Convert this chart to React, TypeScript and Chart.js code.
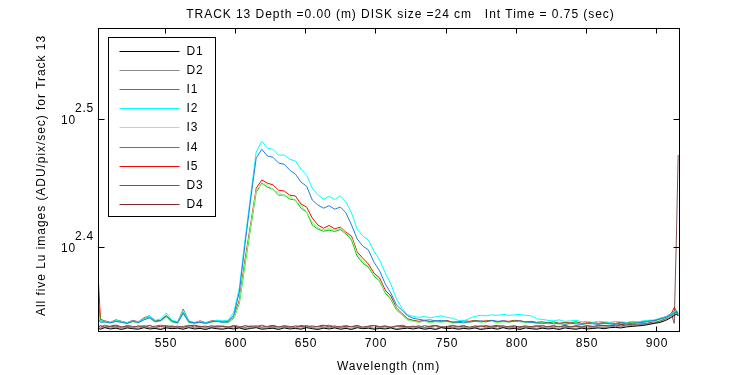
import React, { useEffect, useRef } from 'react';
import { Chart, registerables } from 'chart.js';

Chart.register(...registerables);

// ---------- DATA ----------
const titleText = 'TRACK 13 Depth =0.00 (m) DISK size =24 cm   Int Time = 0.75 (sec)';
const xAxisTitle = 'Wavelength (nm)';
const yAxisTitle = 'All five Lu images (ADU/pix/sec) for Track 13';

const xTickValues = [550, 600, 650, 700, 750, 800, 850, 900];
const yTickExponents = [2.4, 2.5];
const xRange = [502.25, 916.4];
const yRange = [215.6, 373.2];

const wavelengths = [
  502.5, 504, 507, 511, 515, 519, 523, 527, 531, 535, 539, 543, 547, 551, 555, 559, 563, 567, 571, 575, 579, 583, 587, 591, 595,
  599, 603, 607, 611, 615, 619, 623, 627, 631, 635, 639, 643, 647, 651, 655, 659, 663, 667, 671, 675, 679, 683, 687, 691, 695, 699, 703, 707, 711, 715, 719, 723,
  727, 731, 735, 739, 743, 747, 751, 755, 759, 763, 767, 771, 775, 779, 783, 787, 791, 795, 799, 803, 807, 811, 815, 819, 823, 827, 831, 835, 839, 843,
  847, 851, 855, 859, 863, 867, 871, 875, 879, 883, 887, 891, 895, 899, 903, 907, 911, 913, 914.5, 915.8,
];

const seriesD1 = [
  216.6, 216.3, 216.9, 216.4, 216.7, 216.2, 216.8, 216.5, 216.3, 216.9, 216.4, 216.6, 216.2, 216.8, 216.5, 216.7, 216.3, 216.9, 216.4, 216.6, 216.2, 216.8, 216.5, 216.3, 216.7,
  216.4, 216.8, 216.2, 216.6, 216.9, 216.3, 216.5, 216.7, 216.2, 216.8, 216.4, 216.6, 216.3, 216.9, 216.5, 216.2, 216.7, 216.4, 216.8, 216.3, 216.6, 216.2, 216.9, 216.5, 216.7, 216.3, 216.6, 216.4, 216.8, 216.2, 216.5, 216.7,
  216.4, 216.8, 216.3, 216.6, 216.2, 216.9, 216.5, 216.7, 216.3, 216.6, 216.4, 216.8, 216.2, 216.5, 216.7, 216.3, 216.9, 216.4, 216.6, 216.2, 216.8, 216.5, 216.3, 216.7, 216.4,
  216.6, 216.2, 216.8, 216.5, 216.3, 216.7, 216.4, 216.6, 216.8, 216.5, 216.9, 217.0, 216.8, 217.2, 217.4, 217.6, 217.8, 218.2, 218.6, 219.0, 219.8, 221.0, 221.8, 222.2, 221.8,
];

const seriesD2 = [
  217.0, 216.7, 217.3, 216.8, 217.1, 216.6, 217.2, 216.9, 216.7, 217.3, 216.8, 217.0, 216.6, 217.2, 216.9, 217.1, 216.7, 217.3, 216.8, 217.0, 216.6, 217.2, 216.9, 216.7, 217.1,
  216.8, 217.2, 216.6, 217.0, 217.3, 216.7, 216.9, 217.1, 216.6, 217.2, 216.8, 217.0, 216.7, 217.3, 216.9, 216.6, 217.1, 216.8, 217.2, 216.7, 217.0, 216.6, 217.3, 216.9, 217.1, 216.7, 217.0, 216.8, 217.2, 216.6, 216.9, 217.1,
  216.8, 217.2, 216.7, 217.0, 216.6, 217.3, 216.9, 217.1, 216.7, 217.0, 216.8, 217.2, 216.6, 216.9, 217.1, 216.7, 217.3, 216.8, 217.0, 216.6, 217.2, 216.9, 216.7, 217.1, 216.8,
  217.0, 216.6, 217.2, 216.9, 216.7, 217.1, 216.8, 217.0, 217.2, 216.9, 217.3, 217.4, 217.2, 217.6, 217.8, 218.0, 218.2, 218.6, 219.0, 219.4, 220.2, 221.4, 222.2, 222.6, 222.0,
];

const seriesI1 = [
  220.2, 219.0, 219.2, 218.8, 219.4, 219.0, 218.6, 219.4, 218.9, 220.0, 220.8, 219.2, 219.8, 221.8, 219.4, 218.8, 222.6, 219.2, 218.8, 219.0, 218.6, 219.2, 219.4, 219.0, 219.4,
  221.8, 231.4, 251.9, 273.3, 294.8, 299.6, 296.0, 295.3, 292.2, 291.6, 288.5, 286.4, 282.3, 280.2, 273.3, 270.9, 269.3, 270.5, 268.8, 269.9, 267.0, 261.2, 254.7, 251.4, 249.7, 244.2, 240.4, 234.8, 230.9, 226.0, 223.8, 221.6,
  220.6, 220.2, 219.8, 220.0, 219.6, 219.8, 219.4, 219.2, 219.0, 218.8, 219.2, 219.4, 219.6, 219.2, 219.8, 219.4, 219.6, 219.2, 219.4, 219.6, 219.2, 219.0, 218.8, 218.6, 218.8,
  218.4, 218.6, 218.2, 218.6, 218.4, 218.2, 218.6, 218.4, 218.2, 218.6, 218.4, 218.2, 218.8, 218.4, 218.6, 218.8, 219.0, 219.4, 219.8, 220.4, 221.0, 222.0, 222.8, 223.0, 222.4,
];

const seriesI2 = [
  221.0, 219.8, 219.4, 219.0, 219.8, 219.4, 218.9, 219.6, 219.2, 220.6, 221.6, 219.8, 220.4, 222.8, 219.8, 219.2, 224.0, 219.6, 219.0, 219.4, 218.8, 219.4, 219.8, 219.6, 219.8,
  223.1, 233.1, 254.2, 275.3, 298.1, 303.9, 300.2, 299.6, 296.4, 296.5, 294.2, 293.3, 289.0, 285.9, 279.2, 275.9, 273.7, 275.1, 273.6, 275.4, 272.4, 266.9, 259.3, 256.0, 254.2, 249.1, 245.2, 239.5, 234.8, 228.5, 224.6, 222.0,
  221.4, 221.0, 221.4, 220.8, 221.2, 221.6, 221.0, 220.6, 219.8, 219.6, 220.6, 221.4, 221.8, 221.6, 222.0, 221.8, 222.2, 221.8, 222.0, 222.2, 221.8, 221.6, 220.4, 220.2, 219.8,
  219.6, 220.0, 219.4, 219.6, 219.8, 219.2, 219.4, 219.0, 219.4, 219.2, 219.0, 219.4, 219.2, 219.0, 219.4, 219.2, 219.6, 219.8, 220.0, 220.6, 221.2, 222.4, 223.2, 223.8, 223.0,
];

const seriesI3 = [
  220.4, 219.4, 219.0, 218.8, 219.4, 219.0, 218.6, 219.2, 218.8, 220.2, 220.8, 219.2, 219.4, 221.0, 219.0, 218.6, 222.6, 218.8, 218.4, 219.0, 218.4, 219.0, 219.4, 219.0, 219.4,
  220.6, 227.2, 243.8, 260.2, 278.2, 281.4, 281.3, 278.2, 277.2, 275.3, 275.3, 272.8, 270.8, 267.4, 262.6, 259.8, 259.0, 259.6, 258.9, 259.7, 257.5, 255.1, 247.9, 244.8, 242.6, 238.6, 236.4, 231.4, 228.7, 224.4, 222.0, 220.0,
  219.4, 219.0, 219.4, 218.8, 219.2, 219.0, 219.4, 218.6, 218.8, 219.2, 219.0, 219.4, 219.0, 219.2, 219.4, 218.8, 219.2, 219.0, 219.4, 219.2, 218.8, 219.0, 218.6, 218.8, 218.4,
  218.8, 218.2, 218.6, 218.4, 218.8, 218.2, 218.4, 218.6, 218.2, 218.6, 218.4, 218.2, 218.6, 218.4, 218.8, 218.6, 219.0, 219.4, 219.2, 220.0, 220.8, 222.0, 223.2, 222.8, 222.0,
];

const seriesI4 = [
  228.0, 219.6, 219.2, 218.8, 219.6, 219.2, 218.6, 219.4, 219.0, 220.4, 221.0, 219.4, 219.6, 221.2, 219.2, 218.8, 223.0, 219.0, 218.6, 219.2, 218.6, 219.2, 219.6, 219.2, 219.0,
  220.6, 226.8, 242.9, 259.7, 277.2, 281.8, 279.8, 278.7, 275.7, 275.8, 273.8, 273.3, 269.3, 267.4, 261.2, 259.3, 258.3, 258.8, 258.2, 259.1, 257.0, 254.2, 246.9, 243.8, 242.0, 238.2, 236.0, 231.0, 228.3, 224.0, 222.0, 220.0,
  219.6, 219.2, 219.6, 219.0, 219.4, 219.2, 219.6, 218.8, 219.0, 219.4, 219.2, 219.6, 219.2, 219.4, 219.6, 219.0, 219.4, 219.2, 219.6, 219.4, 219.0, 219.2, 218.8, 219.0, 218.6,
  219.0, 218.4, 218.8, 218.6, 219.0, 218.4, 218.6, 218.8, 218.4, 218.8, 218.6, 218.4, 218.8, 218.6, 219.0, 218.8, 219.2, 219.6, 219.4, 220.2, 221.0, 222.2, 223.6, 223.0, 222.2,
];

const seriesI5 = [
  236.4, 220.2, 219.6, 219.0, 220.0, 219.4, 218.8, 219.8, 219.2, 220.8, 221.6, 219.6, 219.8, 221.6, 219.6, 219.0, 224.3, 219.4, 218.8, 219.6, 218.8, 219.6, 219.8, 219.4, 219.4,
  221.0, 228.0, 245.2, 261.2, 279.2, 283.4, 281.8, 280.9, 278.2, 277.8, 275.7, 275.3, 271.3, 269.8, 264.5, 261.2, 259.7, 261.0, 259.4, 260.2, 257.8, 256.0, 248.8, 246.0, 243.4, 239.4, 237.3, 232.2, 229.7, 224.8, 222.5, 220.4,
  219.8, 219.4, 219.8, 219.2, 219.6, 219.4, 219.8, 219.0, 219.2, 219.6, 219.4, 219.8, 219.4, 219.6, 219.8, 219.2, 219.6, 219.4, 219.8, 219.6, 219.2, 219.4, 219.0, 219.2, 218.8,
  219.2, 218.6, 219.0, 218.8, 219.2, 218.6, 218.8, 219.0, 218.6, 219.0, 218.8, 218.6, 219.0, 218.8, 219.2, 219.0, 219.4, 219.8, 219.6, 220.6, 221.2, 222.6, 225.0, 223.4, 222.6,
];

const seriesD3 = [
  217.6, 217.1, 217.9, 217.3, 217.5, 217.0, 217.8, 217.4, 217.2, 217.7, 217.0, 217.5, 217.9, 217.3, 217.6, 217.1, 217.4, 217.8, 217.2, 217.5, 217.0, 217.7, 217.3, 217.6, 217.1,
  217.8, 217.4, 217.0, 217.6, 217.3, 217.9, 217.2, 217.5, 217.1, 217.7, 217.4, 217.0, 217.8, 217.3, 217.6, 217.2, 217.5, 217.9, 217.1, 217.4, 217.7, 217.2, 217.6, 217.0, 217.5, 217.8, 217.3, 217.6, 217.1, 217.4, 217.9, 217.2,
  217.5, 217.1, 217.7, 217.3, 217.6, 217.0, 217.4, 217.8, 217.2, 217.5, 217.1, 217.6, 217.3, 217.8, 217.2, 217.4, 217.7, 217.1, 217.5, 217.3, 217.6, 217.0, 217.4, 217.8, 217.2,
  217.6, 217.3, 217.5, 217.1, 217.7, 217.4, 217.6, 217.2, 217.8, 217.5, 217.7, 218.0, 217.6, 217.9, 218.2, 218.0, 218.4, 218.6, 218.9, 219.4, 220.6, 222.4, 218.6, 254.2, 296.5,
];

const seriesD4 = [
  217.3, 217.7, 217.1, 217.5, 217.9, 217.2, 217.4, 217.0, 217.6, 217.3, 217.8, 217.1, 217.4, 217.7, 217.2, 217.5, 217.0, 217.6, 217.9, 217.3, 217.5, 217.1, 217.6, 217.4, 217.2,
  217.5, 217.0, 217.7, 217.3, 217.6, 217.1, 217.4, 217.8, 217.2, 217.5, 217.0, 217.6, 217.3, 217.7, 217.1, 217.4, 217.9, 217.2, 217.6, 217.0, 217.5, 217.3, 217.8, 217.1, 217.4, 217.7, 217.2, 217.5, 217.0, 217.6, 217.4, 217.3,
  217.2, 217.6, 217.0, 217.5, 217.8, 217.3, 217.1, 217.6, 217.4, 217.7, 217.0, 217.3, 217.6, 217.2, 217.5, 217.8, 217.1, 217.4, 217.6, 217.0, 217.5, 217.3, 217.7, 217.1, 217.4,
  217.6, 217.2, 217.8, 217.3, 217.5, 217.1, 217.7, 217.4, 217.6, 217.8, 217.5, 217.9, 218.2, 218.0, 218.3, 218.5, 218.3, 218.8, 219.2, 219.6, 220.6, 222.0, 222.8, 223.4, 221.6,
];

const seriesLabels = ['D1', 'D2', 'I1', 'I2', 'I3', 'I4', 'I5', 'D3', 'D4'];
const seriesColors = ['#000000', '#8c8c8c', '#1f7fe0', '#00ffff', '#80ff80', '#00c000', '#ff0000', '#805050', '#802828'];
const seriesValues = [seriesD1, seriesD2, seriesI1, seriesI2, seriesI3, seriesI4, seriesI5, seriesD3, seriesD4];

// ---------- RENDERING ----------
const FONT = '12px "Liberation Sans", Arial, Helvetica, sans-serif';

const matlabFrame = {
  id: 'matlabFrame',
  afterDatasetsDraw(chart: any) {
    const { ctx, chartArea: a, scales } = chart;
    const xs = scales.x;
    const ys = scales.y;
    ctx.save();
    ctx.strokeStyle = '#000';
    ctx.fillStyle = '#000';
    ctx.lineWidth = 1;
    ctx.font = FONT;
    const spacing = (v: string) => {
      try {
        (ctx as any).letterSpacing = v;
      } catch (e) {
        /* ignore */
      }
    };
    spacing('0.8px');

    const L = Math.round(a.left) + 0.5;
    const R = Math.round(a.right) + 0.5;
    const T = Math.round(a.top) + 0.5;
    const B = Math.round(a.bottom) + 0.5;
    const seg = (x1: number, y1: number, x2: number, y2: number) => {
      ctx.beginPath();
      ctx.moveTo(x1, y1);
      ctx.lineTo(x2, y2);
      ctx.stroke();
    };

    // frame
    ctx.strokeRect(L, T, R - L, B - T);

    // x ticks + labels
    ctx.textAlign = 'center';
    ctx.textBaseline = 'alphabetic';
    xTickValues.forEach((v) => {
      const px = Math.round(xs.getPixelForValue(v)) + 0.5;
      seg(px, B, px, B - 5);
      seg(px, T, px, T + 5);
      ctx.fillText(String(v), px + 0.5, a.bottom + 16);
    });

    // y ticks + labels (10^e)
    yTickExponents.forEach((e) => {
      const py = Math.round(ys.getPixelForValue(Math.pow(10, e))) + 0.5;
      seg(L, py, L + 6, py);
      seg(R, py, R - 6, py);
      ctx.textAlign = 'right';
      ctx.fillText('10', a.left - 22, py + 4.5);
      ctx.textAlign = 'left';
      ctx.fillText(e.toFixed(1), a.left - 23, py - 7.5);
    });

    // title
    spacing('0.95px');
    ctx.textAlign = 'center';
    ctx.fillText(titleText, (a.left + a.right) / 2 + 12, 18);
    // x axis title
    spacing('0.8px');
    ctx.fillText(xAxisTitle, (a.left + a.right) / 2, 370);
    // y axis title
    spacing('0.95px');
    ctx.save();
    ctx.translate(45, (a.top + a.bottom) / 2 - 4);
    ctx.rotate(-Math.PI / 2);
    ctx.fillText(yAxisTitle, 0, 0);
    ctx.restore();
    spacing('0.8px');

    // legend box
    const bx = Math.round(a.left) + 10.5;
    const by = Math.round(a.top) + 9.5;
    const bw = 107;
    const bh = 179;
    ctx.fillStyle = '#fff';
    ctx.fillRect(bx, by, bw, bh);
    ctx.strokeStyle = '#000';
    ctx.strokeRect(bx, by, bw, bh);
    ctx.textAlign = 'left';
    ctx.textBaseline = 'middle';
    chart.data.datasets.forEach((ds: any, i: number) => {
      const ry = Math.round(by + 13 + i * 19.2) + 0.5;
      ctx.strokeStyle = ds.borderColor;
      seg(bx + 11, ry, bx + 71, ry);
      ctx.fillStyle = '#000';
      ctx.fillText(ds.label, bx + 78, ry + 0.5);
    });
    ctx.restore();
  },
};

export default function App() {
  const canvasRef = useRef<HTMLCanvasElement | null>(null);

  useEffect(() => {
    document.body.style.margin = '0';
    const canvas = canvasRef.current;
    if (!canvas) return;
    const datasets = seriesLabels.map((label, s) => {
      const vals = seriesValues[s];
      const n = Math.min(vals.length, wavelengths.length);
      const pts = [] as { x: number; y: number }[];
      for (let i = 0; i < n; i++) pts.push({ x: wavelengths[i], y: vals[i] });
      return {
        label,
        data: pts,
        borderColor: seriesColors[s],
        backgroundColor: seriesColors[s],
        borderWidth: 1,
        pointRadius: 0,
        fill: false,
        tension: 0,
      };
    });
    const chart = new Chart(canvas, {
      type: 'line',
      data: { datasets },
      options: {
        responsive: false,
        animation: false,
        devicePixelRatio: 1,
        parsing: false,
        normalized: true,
        layout: { padding: { left: 98, right: 71, top: 28, bottom: 44 } },
        scales: {
          x: { type: 'linear', min: xRange[0], max: xRange[1], display: false },
          y: { type: 'logarithmic', min: yRange[0], max: yRange[1], display: false },
        },
        plugins: {
          legend: { display: false },
          title: { display: false },
          tooltip: { enabled: false },
        },
        events: [],
      },
      plugins: [matlabFrame],
    } as any);
    return () => chart.destroy();
  }, []);

  return (
    <div style={{ width: 750, height: 375, background: '#fff' }}>
      <canvas ref={canvasRef} width={750} height={375} style={{ display: 'block' }} />
    </div>
  );
}
